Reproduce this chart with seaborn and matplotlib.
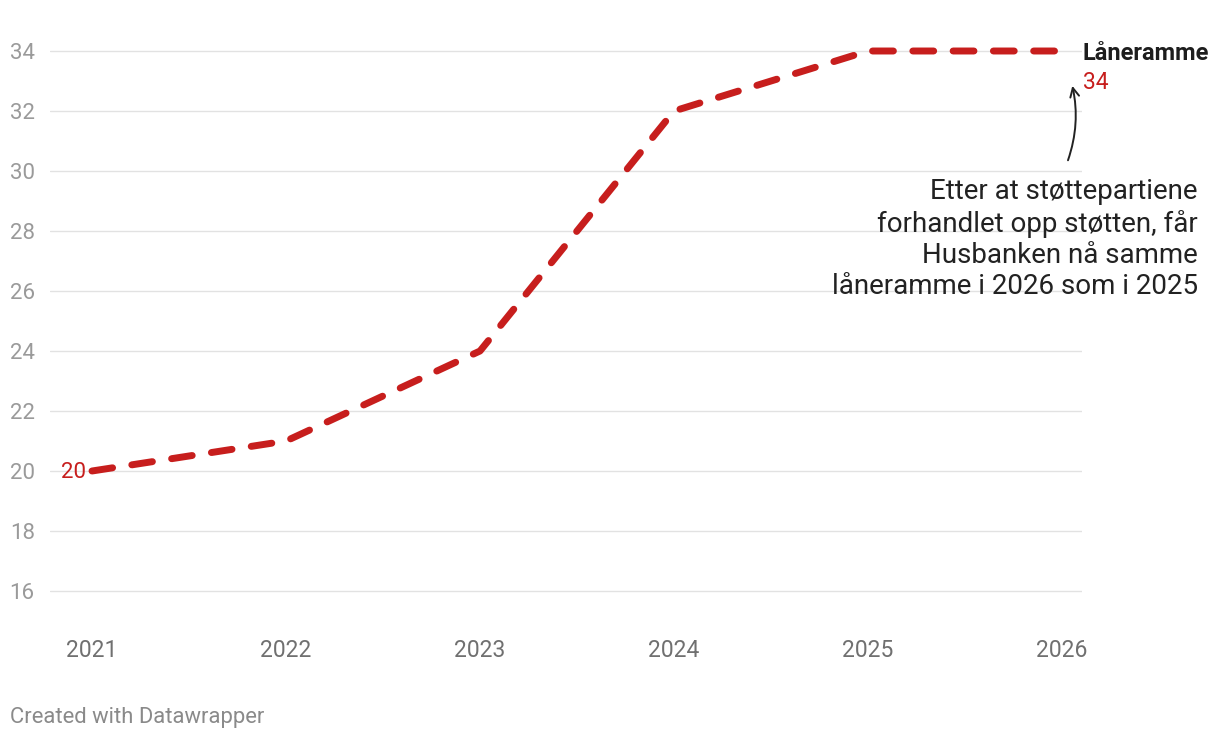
import matplotlib
matplotlib.use("Agg")
import matplotlib.pyplot as plt
import pandas as pd
import seaborn as sns

years = [2021, 2022, 2023, 2024, 2025, 2026]
laneramme = [20, 21, 24, 32, 34, 34]
y_ticks = [16, 18, 20, 22, 24, 26, 28, 30, 32, 34]

RED = "#c71e1d"
note = ("Etter at støttepartiene\nforhandlet opp støtten, får\n"
        "Husbanken nå samme\nlåneramme i 2026 som i 2025")

df = pd.DataFrame({"year": years, "value": laneramme})

sns.set_theme(style="white")
plt.rcParams["font.family"] = ["Roboto", "DejaVu Sans"]

fig = plt.figure(figsize=(12.2, 7.38), dpi=100)
ax = fig.add_axes([50 / 1220, 117 / 738, 1032 / 1220, 585 / 738])

sns.lineplot(data=df, x="year", y="value", ax=ax, color=RED, linewidth=5,
             dashes=False, solid_capstyle="round")
line = ax.lines[0]
line.set_linestyle((0, (3.0, 2.8)))
line.set_dash_capstyle("round")

ax.set_xlim(2020.7835, 2026.103)
ax.set_ylim(15, 34.5)
ax.set_yticks(y_ticks)
ax.set_xticks(years)
ax.set_xlabel("")
ax.set_ylabel("")
ax.grid(axis="y", color="#e2e2e2", linewidth=1)
ax.grid(axis="x", visible=False)
ax.set_axisbelow(True)
for s in ax.spines.values():
    s.set_visible(False)
ax.tick_params(axis="y", length=0, pad=11, labelsize=16, labelcolor="#9a9a9a")
ax.tick_params(axis="x", length=0, pad=13, labelsize=16.5, labelcolor="#707070")

# start and end labels
ax.annotate(str(laneramme[0]), xy=(years[0], laneramme[0]), xytext=(-4, -1),
            textcoords="offset points", ha="right", va="center",
            fontsize=16, color=RED)
ax.annotate("Låneramme", xy=(years[-1], laneramme[-1]), xytext=(15, -2),
            textcoords="offset points", ha="left", va="center",
            fontsize=17, fontweight="bold", color="#1d1d1d")
ax.annotate(str(laneramme[-1]), xy=(years[-1], laneramme[-1]), xytext=(15, -23),
            textcoords="offset points", ha="left", va="center",
            fontsize=16.5, color=RED)

# note with arrow
fig.text(1198 / 1220, (738 - 239) / 738, note, ha="right", va="center",
         fontsize=20, color="#222222", linespacing=1.2)
ax.annotate("", xy=(2026.05, 32.93), xytext=(2026.026, 30.27),
            arrowprops=dict(arrowstyle="->", color="#222222", lw=1.4,
                            connectionstyle="arc3,rad=0.15",
                            mutation_scale=16))

fig.text(10 / 1220, (738 - 717) / 738, "Created with Datawrapper",
         ha="left", va="center", fontsize=15.8, color="#8a8a8a")

fig.savefig("out.png", dpi=100)
